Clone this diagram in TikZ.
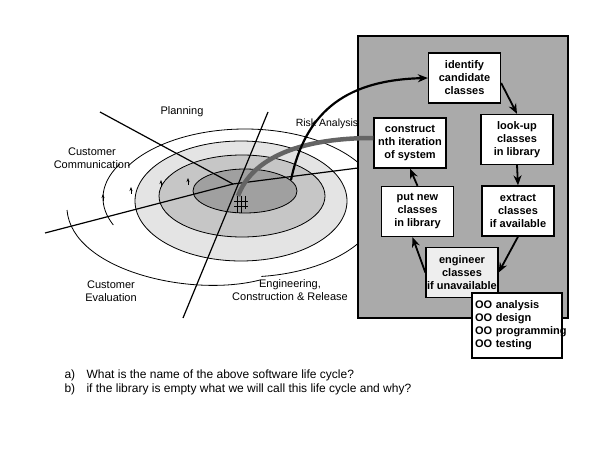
\documentclass[tikz,border=0pt]{standalone}
\usepackage{fontspec}
\setmainfont{Liberation Sans}
\usetikzlibrary{arrows.meta,positioning,calc}
\definecolor{panelgray}{RGB}{170,170,170}
\definecolor{enggray}{RGB}{238,238,238}
\definecolor{ringone}{RGB}{160,160,160}
\definecolor{ringtwo}{RGB}{198,198,198}
\definecolor{ringthree}{RGB}{228,228,228}
\definecolor{pathgray}{RGB}{100,100,100}

\begin{document}
\begin{tikzpicture}[x=1pt, y=-1pt,
    box/.style={rectangle, draw, line width=1.3pt, fill=white, minimum width=72pt, minimum height=50pt, inner sep=1pt, align=center, font=\fontsize{11}{13}\selectfont\bfseries},
    arrow/.style={-{Stealth[length=10pt,width=8pt]}, line width=1.8pt},
    lbl/.style={align=center, font=\fontsize{11}{12.5}\selectfont},
    ring/.style={draw, line width=0.8pt},
    axis/.style={line width=1.2pt},
    tip/.style={-{Stealth[length=4pt,width=3pt]}, line width=0.6pt}
]
\useasboundingbox (0,0) rectangle (612,462);

% Spiral rings
\draw[ring, fill=ringthree] (241,201) ellipse (106 and 60);
\draw[ring, fill=ringtwo] (242,196) ellipse (83 and 41);
\draw[ring, fill=ringone] (245,191) ellipse (52 and 22);
\draw[ring] plot[domain=210:443, samples=80, smooth] ({245+135*cos(\x)},{203+74*sin(\x)});
\draw[ring] plot[domain=158:208, samples=30, smooth] ({245+142*cos(\x)},{198+72*sin(\x)});
\draw[ring] (67,210) .. controls (72,270) and (190,298) .. (260,280);

% small direction marks
\draw[tip] (103,201) -- (103,194);
\draw[tip] (131,194) -- (131,187);
\draw[tip] (161,187) -- (161,180);
\draw[tip] (188,185) -- (188,178);

% start mark
\draw[line width=0.7pt] (237,196) -- (237,213) (241,196) -- (241,213) (245,196) -- (245,209)
    (234,201) -- (248,201) (234,206) -- (248,206);

% Axes
\coordinate (hub) at (233,184);
\draw[axis] (100,112) -- (hub);
\draw[axis] (45,233) -- (hub) -- (358,168);
\draw[axis] (268,112) -- (183,318);

% Quadrant labels
\node[lbl] (planning) at (182,112) {Planning};
\node[lbl, font=\fontsize{10.5}{12.5}\selectfont] (risk) at (327,124) {Risk Analysis};
\node[lbl] (custcomm) at (92,158) {Customer\\Communication};
\node[lbl] (custeval) at (111,291) {Customer\\Evaluation};
\node[lbl] (engcons) at (290,290) {Engineering,\\Construction \& Release};

% Panel
\node[draw, line width=1.6pt, fill=panelgray, minimum width=210pt, minimum height=282pt, inner sep=0pt] (panel) at (463,177) {};

% Boxes
\node[box] (identify) at (464.5,78) {identify\\candidate\\classes};
\node[box] (lookup) at (517,139.5) {look-up\\classes\\in library};
\node[box] (construct) at (410,143) {construct\\nth iteration\\of system};
\node[box] (putnew) at (417.5,211.5) {put new\\classes\\in library};
\node[box] (extract) at (518,211) {extract\\classes\\if available};
\node[box, fill=enggray] (engineer) at (462,272.5) {engineer\\classes\\if unavailable};
\node[box, line width=1.8pt, align=left, text width=84pt, minimum width=90pt, minimum height=65pt, inner sep=0pt] (oo) at (517,325.5) {OO analysis\\OO design\\\mbox{OO programming}\\OO testing};

% Links from spiral
\coordinate (spiralout) at (291,180);
\coordinate (spiralin) at (238,196);
\draw[line width=4.5pt, pathgray] (spiralin) .. controls (252,158) and (300,138) .. ($(construct.west)+(0,-5)$);
\draw[arrow, line width=2.2pt] (spiralout) .. controls (306,108) and (350,80) .. (identify.west);

% Arrows
\draw[arrow] ($(identify.east)+(0,5)$) -- (lookup.north);
\draw[arrow] (lookup.south) -- (extract.north);
\draw[arrow] (extract.south) -- (engineer.east);
\draw[arrow] (engineer.west) -- ($(putnew.south)+(-5,0)$);
\draw[arrow] (putnew.north) -- (construct.south);

% Questions
\node[anchor=north west, align=left, font=\fontsize{12}{14}\selectfont] (questions) at (61,366)
    {\makebox[22pt][l]{a)}What is the name of the above software life cycle?\\
     \makebox[22pt][l]{b)}if the library is empty what we will call this life cycle and why?};

\end{tikzpicture}
\end{document}
